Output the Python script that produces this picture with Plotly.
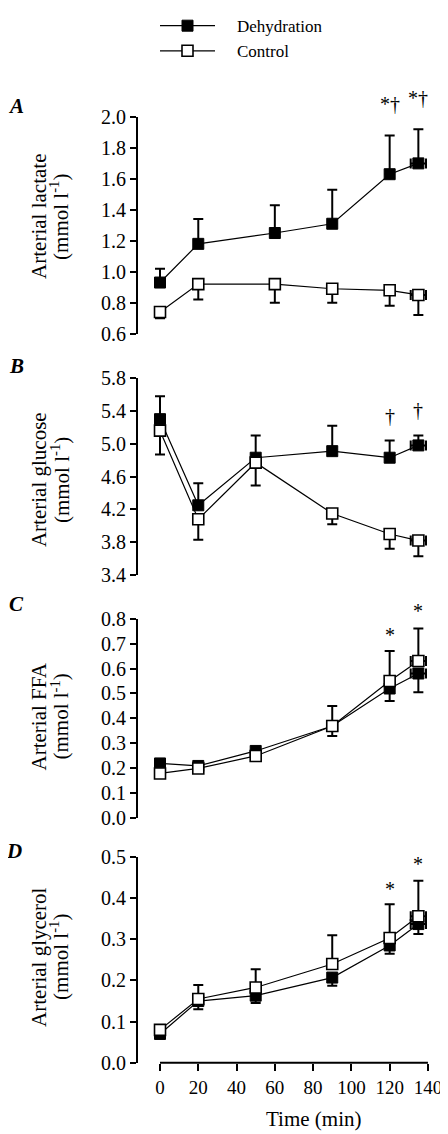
import plotly.graph_objects as go

# ---------------- data ----------------
time = [0, 20, 50, 90, 120, 135]
time_lactate = [0, 20, 60, 90, 120, 135]
time_err = [0, 0, 0, 0, 0, 4]

lact_dehy = [0.93, 1.18, 1.25, 1.31, 1.63, 1.70]
lact_dehy_sem = [0.09, 0.16, 0.18, 0.22, 0.25, 0.22]
lact_ctrl = [0.74, 0.92, 0.92, 0.89, 0.88, 0.85]
lact_ctrl_sem = [0.04, 0.10, 0.12, 0.09, 0.10, 0.13]

gluc_dehy = [5.30, 4.25, 4.83, 4.91, 4.83, 4.98]
gluc_dehy_sem = [0.28, 0.27, 0.27, 0.31, 0.21, 0.12]
gluc_ctrl = [5.16, 4.08, 4.77, 4.15, 3.90, 3.82]
gluc_ctrl_sem = [0.29, 0.25, 0.28, 0.13, 0.18, 0.19]

ffa_dehy = [0.22, 0.21, 0.27, 0.37, 0.52, 0.58]
ffa_dehy_sem = [0.01, 0.01, 0.01, 0.04, 0.05, 0.075]
ffa_ctrl = [0.18, 0.20, 0.25, 0.37, 0.55, 0.63]
ffa_ctrl_sem = [0.01, 0.01, 0.01, 0.08, 0.12, 0.13]

glyc_dehy = [0.07, 0.150, 0.163, 0.207, 0.285, 0.337]
glyc_dehy_sem = [0.005, 0.02, 0.018, 0.02, 0.02, 0.024]
glyc_ctrl = [0.08, 0.155, 0.183, 0.240, 0.303, 0.356]
glyc_ctrl_sem = [0.005, 0.034, 0.044, 0.07, 0.082, 0.086]

# significance marks: (time, y, text)
sig_lactate = [(120, 2.083, "*†"), (135, 2.12, "*†")]
sig_glucose = [(120, 5.34, "†"), (135, 5.41, "†")]
sig_ffa = [(120, 0.733, "*"), (135, 0.829, "*")]
sig_glycerol = [(120, 0.421, "*"), (135, 0.483, "*")]

panel_letters = ["A", "B", "C", "D"]
y_titles = ["Arterial lactate", "Arterial glucose", "Arterial FFA", "Arterial glycerol"]
y_units = "(mmol l<sup>-1</sup>)"
y_ranges = [[0.6, 2.0], [3.4, 5.8], [0.0, 0.8], [0.0, 0.5]]
y_dticks = [0.2, 0.4, 0.1, 0.1]
x_ticks = [0, 20, 40, 60, 80, 100, 120, 140]

# ---------------- layout geometry (window pixels) ----------------
WIN_W, WIN_H = 448, 1134
OFF = 8  # default page margin before the plot div
W, H = WIN_W - OFF, WIN_H - OFF
FONT = "Liberation Serif"
panel_px = [(106, 325), (370, 569), (613, 815), (854, 1062)]
title_center_px = [207, 473, 712, 955]
letter_px = [(16, 95), (16, 358), (16, 598), (14, 848)]
x_left_px, x_right_px = 138, 437.5
x_range = [-11.5, 145]
NB = "&nbsp;" * 4


def py(p):
    return 1 - (p - OFF) / H


def px(p):
    return (p - OFF) / W


fig = go.Figure()

panels = [
    (time_lactate, lact_dehy, lact_dehy_sem, lact_ctrl, lact_ctrl_sem, "up", sig_lactate),
    (time, gluc_dehy, gluc_dehy_sem, gluc_ctrl, gluc_ctrl_sem, "up", sig_glucose),
    (time, ffa_dehy, ffa_dehy_sem, ffa_ctrl, ffa_ctrl_sem, "down", sig_ffa),
    (time, glyc_dehy, glyc_dehy_sem, glyc_ctrl, glyc_ctrl_sem, "down", sig_glycerol),
]

zeros = [0] * 6
annotations = []
for i, (t, dv, ds, cv, cs, dir_dehy, sigs) in enumerate(panels):
    xa = "x" if i == 0 else f"x{i+1}"
    ya = "y" if i == 0 else f"y{i+1}"
    lo, hi = y_ranges[i]
    if dir_dehy == "up":
        d_plus, d_minus, c_plus, c_minus = ds, zeros, zeros, cs
    else:
        d_plus, d_minus, c_plus, c_minus = zeros, ds, cs, zeros
    fig.add_trace(go.Scatter(
        x=t, y=dv, mode="lines+markers", name=NB + "Dehydration",
        showlegend=(i == 0), xaxis=xa, yaxis=ya, cliponaxis=False,
        line=dict(color="black", width=1.2),
        marker=dict(symbol="square", size=11, color="black", line=dict(color="black", width=1)),
        error_y=dict(type="data", symmetric=False, array=d_plus, arrayminus=d_minus,
                     color="black", thickness=2, width=5),
        error_x=dict(type="data", array=time_err, color="black", thickness=2, width=5),
    ))
    fig.add_trace(go.Scatter(
        x=t, y=cv, mode="lines+markers", name=NB + "Control",
        showlegend=(i == 0), xaxis=xa, yaxis=ya, cliponaxis=False,
        line=dict(color="black", width=1.2),
        marker=dict(symbol="square", size=11, color="white", line=dict(color="black", width=1.6)),
        error_y=dict(type="data", symmetric=False, array=c_plus, arrayminus=c_minus,
                     color="black", thickness=2, width=5),
        error_x=dict(type="data", array=time_err, color="black", thickness=2, width=5),
    ))
    for (sx, sy, st) in sigs:
        annotations.append(dict(x=sx, y=(sy - lo) / (hi - lo), xref=xa, yref=f"{ya} domain",
                                text=st, showarrow=False,
                                font=dict(family=FONT, size=20, color="black"),
                                xanchor="center", yanchor="middle"))
    lx, ly = letter_px[i]
    annotations.append(dict(x=px(lx), y=py(ly), xref="paper", yref="paper",
                            text=f"<b><i>{panel_letters[i]}</i></b>", showarrow=False,
                            font=dict(family=FONT, size=21, color="black"),
                            xanchor="center", yanchor="middle"))
    annotations.append(dict(x=px(39), y=py(title_center_px[i]), xref="paper", yref="paper",
                            text=y_titles[i], textangle=-90, showarrow=False,
                            font=dict(family=FONT, size=21, color="black"),
                            xanchor="center", yanchor="middle"))
    annotations.append(dict(x=px(60), y=py(title_center_px[i]), xref="paper", yref="paper",
                            text=y_units, textangle=-90, showarrow=False,
                            font=dict(family=FONT, size=21, color="black"),
                            xanchor="center", yanchor="middle"))

annotations.append(dict(x=px(313), y=py(1119), xref="paper", yref="paper",
                        text="Time (min)", showarrow=False,
                        font=dict(family=FONT, size=21, color="black"),
                        xanchor="center", yanchor="middle"))

layout = dict(
    width=W, height=H,
    margin=dict(l=0, r=0, t=0, b=0),
    paper_bgcolor="white", plot_bgcolor="white",
    font=dict(family=FONT, size=20, color="black"),
    showlegend=True,
    legend=dict(x=px(155), y=py(-4), xanchor="left", yanchor="top",
                font=dict(family=FONT, size=17, color="black"),
                bgcolor="rgba(0,0,0,0)", itemwidth=55, tracegroupgap=0),
    annotations=annotations,
)

for i in range(4):
    xk = "xaxis" if i == 0 else f"xaxis{i+1}"
    yk = "yaxis" if i == 0 else f"yaxis{i+1}"
    ya = "y" if i == 0 else f"y{i+1}"
    xa = "x" if i == 0 else f"x{i+1}"
    top, bot = panel_px[i]
    layout[xk] = dict(domain=[px(x_left_px), px(x_right_px)], range=x_range, anchor=ya,
                      showgrid=False, zeroline=False, showline=False,
                      showticklabels=(i == 3), ticks="outside" if i == 3 else "",
                      tickvals=x_ticks if i == 3 else [], ticklen=7, tickwidth=2,
                      tickcolor="black", tickfont=dict(family=FONT, size=19),
                      ticklabeloverflow="allow",
                      automargin=False, fixedrange=True)
    layout[yk] = dict(domain=[py(bot), py(top)], range=y_ranges[i], anchor=xa,
                      showgrid=False, zeroline=False, showline=True, linewidth=2,
                      linecolor="black", ticks="outside", ticklen=6, tickwidth=2,
                      tickcolor="black", dtick=y_dticks[i], tick0=y_ranges[i][0],
                      tickformat=".1f", tickfont=dict(family=FONT, size=20),
                      automargin=False, fixedrange=True)

fig.update_layout(**layout)

fig.add_shape(type="line", xref="x4", yref="y4 domain", x0=x_ticks[0], x1=x_ticks[-1],
              y0=0, y1=0, line=dict(color="black", width=2))

fig.write_html("out.html")
